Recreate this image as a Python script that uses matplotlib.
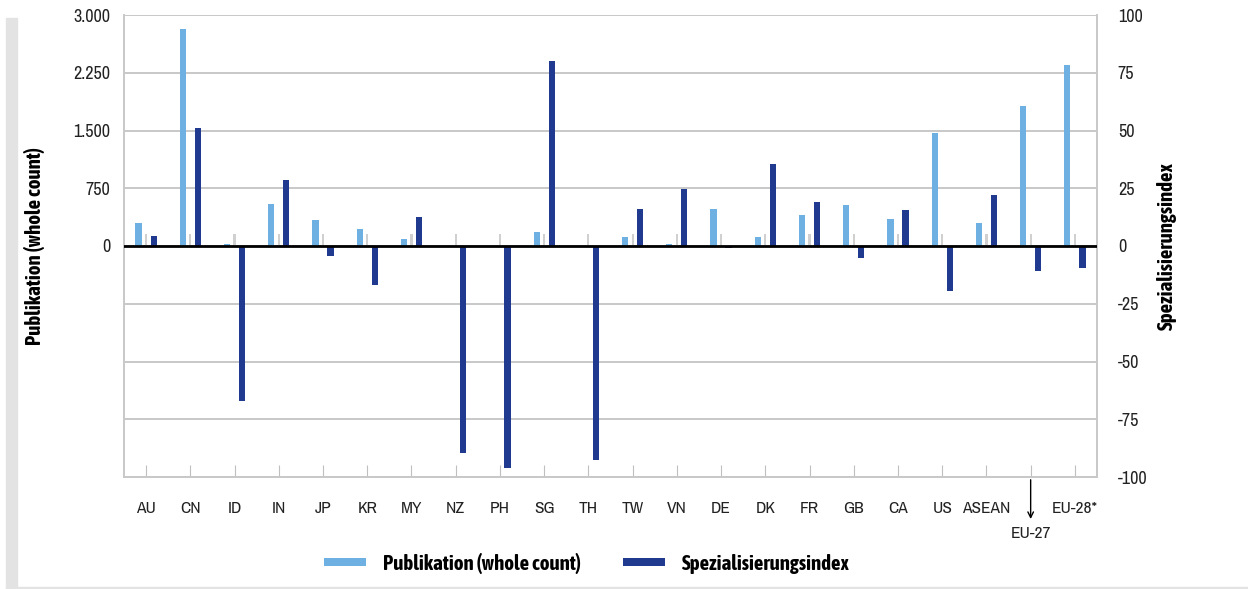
import numpy as np
import matplotlib
matplotlib.use('Agg')
import matplotlib.pyplot as plt
from matplotlib import font_manager
from matplotlib.ticker import FuncFormatter
from matplotlib.patches import Rectangle

# pick a narrow family if one is installed, prefer one that has a bold face
schriften = font_manager.fontManager.ttflist
schmal = sorted({f.name for f in schriften if 'Narrow' in f.name or 'Condensed' in f.name})
schmal_fett = sorted({f.name for f in schriften
                      if ('Narrow' in f.name or 'Condensed' in f.name)
                      and (f.weight == 'bold' or (isinstance(f.weight, int) and f.weight >= 600))})
familie = schmal[:1] + ['Liberation Sans', 'DejaVu Sans']
familie_fett = schmal_fett[:1] + ['Liberation Sans', 'DejaVu Sans']
plt.rcParams['font.family'] = familie

# data
laender = ['AU', 'CN', 'ID', 'IN', 'JP', 'KR', 'MY', 'NZ', 'PH', 'SG', 'TH',
           'TW', 'VN', 'DE', 'DK', 'FR', 'GB', 'CA', 'US', 'ASEAN', 'EU-27', 'EU-28*']
publikation = [300, 2820, 25, 546, 338, 221, 91, 0, 0, 182, 0,
               117, 26, 481, 117, 403, 533, 351, 1468, 299, 1819, 2351]
spez_index = [4.5, 51, -67, 28.6, -4.3, -16.9, 12.6, -89.6, -96, 80, -92.7,
              16, 24.7, -0.9, 35.5, 19, -5.2, 15.6, -19.5, 22, -10.8, -9.5]
platzhalter = [150] * len(laender)

hell = '#6EB0E2'
dunkel = '#1F3A8F'

fig = plt.figure(figsize=(12.48, 5.89), dpi=100)

# outer frame (grey strip left and bottom)
fig.patches.append(Rectangle((6 / 1248, 0), 11 / 1248, 1 - 18 / 589,
                             transform=fig.transFigure, color='#E3E3E3', zorder=0))
fig.patches.append(Rectangle((6 / 1248, 0), 1 - 6 / 1248, 2.5 / 589,
                             transform=fig.transFigure, color='#E3E3E3', zorder=0))

ax = fig.add_axes([124 / 1248, 1 - 477 / 589, (1097 - 124) / 1248, (477 - 15) / 589])
ax2 = ax.twinx()

x = np.arange(len(laender))
w = 0.14

ax.bar(x - 0.17, publikation, w, color=hell, zorder=3, label='Publikation (whole count)')
ax.bar(x, platzhalter, 0.05, color='#D0D0D0', zorder=2)
ax2.bar(x + 0.17, spez_index, w, color=dunkel, zorder=3, label='Spezialisierungsindex')
ax2.axhline(0, color='black', lw=2, zorder=4)

ax.set_xlim(-0.5, len(laender) - 0.5)
ax.set_ylim(-3000, 3000)
ax2.set_ylim(-100, 100)

ax.set_yticks(np.arange(-3000, 3001, 750))
ax.yaxis.set_major_formatter(FuncFormatter(
    lambda v, p: '' if v < 0 else f'{int(v):,}'.replace(',', '.')))
ax2.set_yticks(np.arange(-100, 101, 25))
ax2.yaxis.set_major_formatter(FuncFormatter(lambda v, p: f'{int(v)}'))

ax.grid(axis='y', color='#BFBFBF', lw=1.2, zorder=0)
ax.set_axisbelow(True)

ax.set_xticks(x)
labels = list(laender)
labels[20] = ''
ax.set_xticklabels(labels, fontsize=12.5, color='#222222')
ax.tick_params(axis='x', direction='in', length=9, color='#BFBFBF', pad=17)
ax.tick_params(axis='y', length=0, labelsize=13, pad=10, labelcolor='#222222')
ax2.tick_params(axis='y', length=0, labelsize=13, pad=15, labelcolor='#222222')

for a in (ax, ax2):
    a.spines['top'].set_visible(False)
    for s in ('left', 'right', 'bottom'):
        a.spines[s].set_color('#C8C8C8')
        a.spines[s].set_linewidth(1.2)

# EU-27 label with arrow below the axis
ax.annotate('', xy=(20, -0.097), xycoords=('data', 'axes fraction'),
            xytext=(20, 0.0), textcoords=('data', 'axes fraction'),
            arrowprops=dict(arrowstyle='->', color='black', lw=1))
ax.text(20, -0.123, 'EU-27', transform=ax.get_xaxis_transform(),
        ha='center', va='center', fontsize=12.5, color='#222222')

ax.set_ylabel('Publikation (whole count)', fontsize=15, fontweight='bold', family=familie_fett)
ax2.set_ylabel('Spezialisierungsindex', fontsize=15, fontweight='bold', family=familie_fett)
ax.yaxis.set_label_coords(-0.0812, 0.5)
ax2.yaxis.set_label_coords(1.0617, 0.5)

h1, l1 = ax.get_legend_handles_labels()
h2, l2 = ax2.get_legend_handles_labels()
fig.legend(h1 + h2, l1 + l2, loc='center', bbox_to_anchor=(587 / 1248, 1 - 563 / 589),
           ncol=2, frameon=False, prop={'weight': 'bold', 'size': 15, 'family': familie_fett},
           handlelength=2.0, handleheight=0.22, columnspacing=2.0, handletextpad=0.85)

fig.savefig('out.png', dpi=100)
